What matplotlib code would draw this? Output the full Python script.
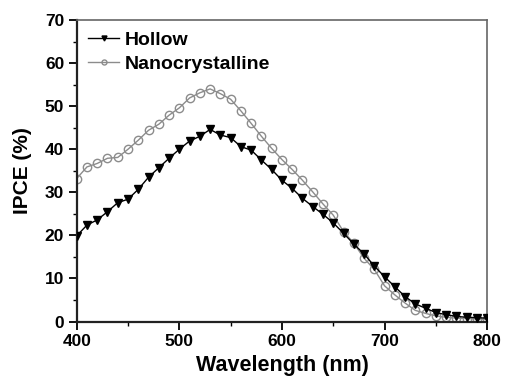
import numpy as np
import matplotlib.pyplot as plt

plt.rcParams['font.family'] = ['Liberation Sans', 'DejaVu Sans']
plt.rcParams['font.weight'] = 'bold'

wavelength = np.arange(400, 801, 10)

hollow = [19.9, 22.4, 23.6, 25.5, 27.6, 28.4, 30.7, 33.5, 35.7, 37.9,
          40.0, 41.9, 43.0, 44.6, 43.3, 42.7, 40.6, 39.8, 37.5, 35.3,
          32.8, 30.9, 28.6, 26.7, 24.9, 22.9, 20.5, 18.0, 15.7, 12.9,
          10.4, 8.1, 5.8, 4.1, 3.1, 2.1, 1.6, 1.2, 1.0, 0.9, 0.8]

nano = [33.2, 35.9, 36.7, 37.9, 38.1, 40.0, 42.1, 44.4, 45.8, 47.9,
        49.6, 51.9, 53.1, 54.0, 52.9, 51.6, 48.9, 46.0, 43.0, 40.2,
        37.6, 35.3, 32.8, 30.1, 27.3, 24.7, 20.9, 18.2, 14.7, 12.1,
        8.3, 6.2, 4.3, 2.6, 1.9, 1.3, 1.0, 0.8, 0.7, 0.6, 0.5]

fig = plt.figure(figsize=(5.08, 3.77), dpi=100)
ax = fig.add_axes([0.151, 0.147, 0.808, 0.800])

ax.plot(wavelength, hollow, color='black', lw=1.0, marker='v',
        ms=6, mfc='black', mec='black', label='Hollow', zorder=3)
ax.plot(wavelength, nano, color='#8c8c8c', lw=1.0, marker='o',
        ms=6, mfc='none', mec='#8c8c8c', mew=1.0,
        label='Nanocrystalline', zorder=2)

ax.set_xlim(400, 800)
ax.set_ylim(0, 70)
ax.set_xticks(np.arange(400, 801, 100))
ax.set_xticks(np.arange(450, 800, 100), minor=True)
ax.set_yticks(np.arange(0, 71, 10))
ax.set_yticks(np.arange(5, 70, 10), minor=True)

ax.tick_params(which='major', direction='out', length=6, width=1.3,
               labelsize=12.5, pad=3, top=False, right=False)
ax.tick_params(which='minor', direction='out', length=3, width=1.0,
               top=False, right=False)
for lbl in ax.get_xticklabels() + ax.get_yticklabels():
    lbl.set_fontweight('bold')

for s in ['left', 'bottom']:
    ax.spines[s].set_linewidth(1.6)
    ax.spines[s].set_color('#222222')
for s in ['top', 'right']:
    ax.spines[s].set_linewidth(1.2)
    ax.spines[s].set_color('#666666')

# the original crops the x label at the bottom edge; keep it just inside
ax.set_xlabel('Wavelength (nm)', fontsize=15.5, fontweight='bold', labelpad=4)
ax.set_ylabel('IPCE (%)', fontsize=15, fontweight='bold', labelpad=9)

leg = ax.legend(loc='upper left', frameon=False, fontsize=14,
                handlelength=1.6, handletextpad=0.25, labelspacing=0.3,
                borderaxespad=0.2, borderpad=0.4, markerscale=0.6)
for t in leg.get_texts():
    t.set_fontweight('bold')

fig.savefig('out.png', dpi=100)
